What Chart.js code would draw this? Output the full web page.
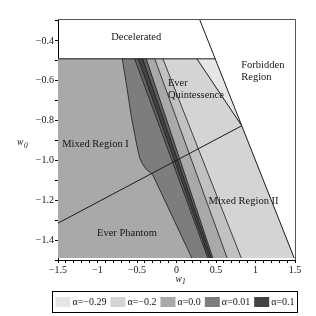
<!DOCTYPE html>
<html>
<head>
<meta charset="utf-8">
<script src="https://cdn.jsdelivr.net/npm/chart.js@4.4.1/dist/chart.umd.min.js"></script>
<style>
  html, body { margin: 0; padding: 0; background: #fff; }
</style>
</head>
<body>
<canvas id="chart" width="316" height="316"></canvas>
<script>
// plot window: w1 across, w0 up
const w1Range = [-1.5, 1.5];
const w0Range = [-1.5, -0.29];
const shadedTop = -0.49;
const shadedBottom = -1.49;

// contour edges (w1 at the given w0)
const edgeB1W1 = [-0.687, -0.636, -0.572, -0.508, -0.466, -0.43, -0.381, -0.30, 0.194];
const edgeB1W0 = [-0.49, -0.611, -0.78, -0.912, -0.988, -1.018, -1.045, -1.073, -1.49];
const straightW0 = [-0.49, -1.49];
const edgeB2W1 = [-0.53, 0.396];
const edgeB2bW1 = [-0.485, 0.415];
const edgeB3bW1 = [-0.428, 0.441];
const edgeB3W1 = [-0.383, 0.46];
const edgeB5W1 = [-0.275, 0.641];
const edgeB6W1 = [-0.172, 0.82];

const edgeL2W1 = [0.258, 0.826];
const edgeL2W0 = [-0.49, -0.826];
const dividerW1 = [-1.5, 0.826];
const dividerW0 = [-1.315, -0.826];
const forbiddenW1 = [0.29, 1.49];
const forbiddenW0 = [-0.29, -1.49];

const legendLabels = ['α=−0.29', 'α=−0.2', 'α=0.0', 'α=0.01', 'α=0.1'];
const legendColors = ['#e6e6e6', '#d4d4d4', '#a9a9a9', '#7d7d7d', '#424242'];

const xMajor = [-1.5, -1, -0.5, 0, 0.5, 1, 1.5];
const xTickLabels = ['−1.5', '−1', '−0.5', '0', '0.5', '1', '1.5'];
const yMajor = [-1.4, -1.2, -1.0, -0.8, -0.6, -0.4];
const yTickLabels = ['−1.4', '−1.2', '−1.0', '−0.8', '−0.6', '−0.4'];

const regionLabels = [
  { text: 'Decelerated', w1: -0.51, w0: -0.38, align: 'center' },
  { text: 'Forbidden', w1: 0.82, w0: -0.52 },
  { text: 'Region', w1: 0.82, w0: -0.583 },
  { text: 'Ever', w1: -0.109, w0: -0.613 },
  { text: 'Quintessence', w1: -0.109, w0: -0.675 },
  { text: 'Mixed Region I', w1: -1.446, w0: -0.917 },
  { text: 'Ever Phantom', w1: -1.006, w0: -1.366 },
  { text: 'Mixed Region II', w1: 0.406, w0: -1.207 }
];

const SERIF = '"Liberation Serif", "DejaVu Serif", serif';

function pts(w1s, w0s) {
  return w1s.map((v, i) => ({ x: v, y: w0s[i] }));
}
function leftOf(edge) {
  return [{ x: w1Range[0], y: shadedTop }, ...edge, { x: w1Range[0], y: shadedBottom }];
}
function between(a, b) {
  return [...a, ...b.slice().reverse()];
}

const B1 = pts(edgeB1W1, edgeB1W0);
const B2 = pts(edgeB2W1, straightW0);
const B2b = pts(edgeB2bW1, straightW0);
const B3b = pts(edgeB3bW1, straightW0);
const B3 = pts(edgeB3W1, straightW0);
const B5 = pts(edgeB5W1, straightW0);
const B6 = pts(edgeB6W1, straightW0);
const L2 = pts(edgeL2W1, edgeL2W0);
const divider = pts(dividerW1, dividerW0);
const forbidden = pts(forbiddenW1, forbiddenW0);
const topEdge = [{ x: w1Range[0], y: shadedTop }, { x: -shadedTop, y: shadedTop }];

function area(data, color, order) {
  return { data, backgroundColor: color, borderColor: color, borderWidth: 0, fill: 'shape', pointRadius: 0, order };
}
function edge(data, width) {
  return { data, borderColor: '#1c1c1c', borderWidth: width || 0.8, fill: false, pointRadius: 0, order: 0 };
}

const datasets = [
  area(leftOf([{ x: -shadedTop, y: shadedTop }, { x: -shadedBottom, y: shadedBottom }]), legendColors[0], 9),
  area(leftOf([L2[0], L2[1], { x: -shadedBottom, y: shadedBottom }]), legendColors[1], 8),
  area(leftOf(B6), '#c1c1c1', 7),
  area(leftOf(B5), legendColors[2], 6),
  area(between(B1, B3), legendColors[3], 5),
  area(between(B2, B3), '#626262', 4),
  area(between(B2b, B3b), legendColors[4], 3),
  edge(topEdge, 1),
  edge(B1), edge(B2), edge(B2b), edge(B3b), edge(B3), edge(B5), edge(B6),
  edge(L2, 1), edge(divider, 1), edge(forbidden, 1)
];

function near(list, v) {
  return list.findIndex(m => Math.abs(m - v) < 1e-6);
}

const decorations = {
  id: 'decorations',
  afterDraw(chart) {
    const { ctx, chartArea: ca, scales: { x, y } } = chart;
    ctx.save();
    // frame top and right
    ctx.strokeStyle = '#555';
    ctx.lineWidth = 1;
    ctx.beginPath();
    ctx.moveTo(ca.left, ca.top + 0.5);
    ctx.lineTo(ca.right + 0.5, ca.top + 0.5);
    ctx.lineTo(ca.right + 0.5, ca.bottom);
    ctx.stroke();

    // region names
    ctx.fillStyle = '#151515';
    ctx.font = '10.5px ' + SERIF;
    ctx.textBaseline = 'middle';
    regionLabels.forEach(l => {
      ctx.textAlign = l.align || 'left';
      ctx.fillText(l.text, x.getPixelForValue(l.w1), y.getPixelForValue(l.w0));
    });

    // axis names
    ctx.textAlign = 'left';
    ctx.font = 'italic 9.5px ' + SERIF;
    ctx.fillText('w', 17, 142);
    ctx.fillText('w', x.getPixelForValue(0) - 1, 279);
    ctx.font = 'italic 7.5px ' + SERIF;
    ctx.fillText('0', 24, 146);
    ctx.fillText('1', x.getPixelForValue(0) + 5.5, 282);

    // legend
    const fl = ca.left - 5.5, fr = ca.right + 2.5, ft = ca.bottom + 31.5, fb = ca.bottom + 52.5;
    ctx.strokeStyle = '#000';
    ctx.strokeRect(fl, ft, fr - fl, fb - ft);
    ctx.font = '10px ' + SERIF;
    const widths = legendLabels.map(t => 15 + 2 + ctx.measureText(t).width);
    const gap = 4;
    const total = widths.reduce((a, b) => a + b, 0) + gap * (widths.length - 1);
    let cx = (fl + fr) / 2 - total / 2;
    const cy = (ft + fb) / 2;
    legendLabels.forEach((t, i) => {
      ctx.fillStyle = legendColors[i];
      ctx.fillRect(cx, cy - 5, 15, 10);
      ctx.fillStyle = '#151515';
      ctx.fillText(t, cx + 17, cy + 0.5);
      cx += widths[i] + gap;
    });
    ctx.restore();
  }
};

new Chart(document.getElementById('chart'), {
  type: 'line',
  data: { datasets },
  options: {
    responsive: false,
    animation: false,
    events: [],
    layout: { padding: { top: 19, right: 21, bottom: 26, left: 0 } },
    elements: { line: { tension: 0 } },
    plugins: { legend: { display: false }, tooltip: { enabled: false } },
    scales: {
      x: {
        type: 'linear',
        min: w1Range[0], max: w1Range[1],
        afterFit: s => { s.height = 30; },
        border: { color: '#000', width: 1 },
        grid: { drawOnChartArea: false, tickLength: 3, tickColor: '#000' },
        ticks: {
          stepSize: 0.1, autoSkip: false, maxRotation: 0, includeBounds: false, padding: 1,
          color: '#151515', font: { family: SERIF, size: 10 },
          callback: v => { const i = near(xMajor, v); return i < 0 ? '' : xTickLabels[i]; }
        }
      },
      y: {
        type: 'linear',
        min: w0Range[0], max: w0Range[1],
        afterFit: s => { s.width = 58; },
        border: { color: '#000', width: 1 },
        grid: { drawOnChartArea: false, tickLength: 3, tickColor: '#000' },
        ticks: {
          stepSize: 0.1, autoSkip: false, includeBounds: false, padding: 1,
          color: '#151515', font: { family: SERIF, size: 10 },
          callback: v => { const i = near(yMajor, v); return i < 0 ? '' : yTickLabels[i]; }
        }
      }
    }
  },
  plugins: [decorations]
});
</script>
</body>
</html>
